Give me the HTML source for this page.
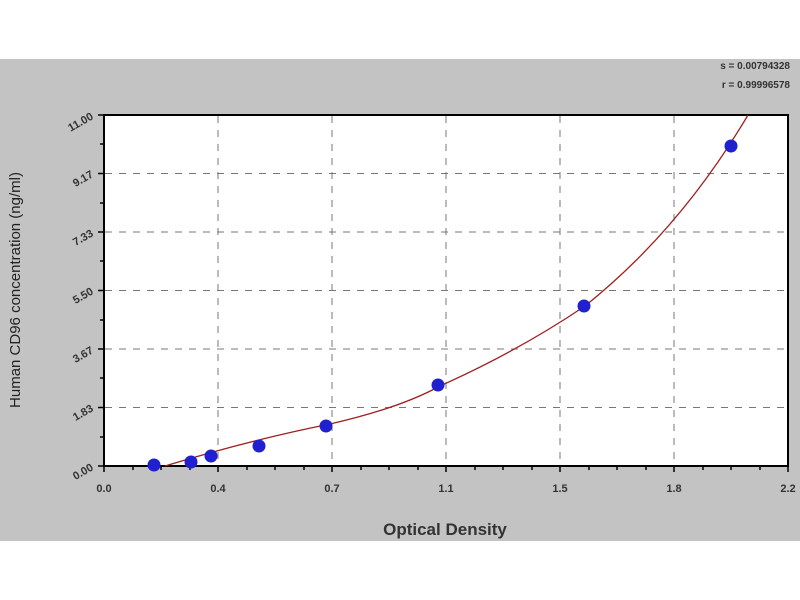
<!DOCTYPE html>
<html><head><style>body{margin:0;background:#fff}svg{display:block}text{font-family:"Liberation Sans",sans-serif}</style></head><body>
<svg width="800" height="600" xmlns="http://www.w3.org/2000/svg">
<rect x="0" y="59" width="800" height="482" fill="#c3c3c3"/>
<rect x="104" y="115" width="684" height="351" fill="#fff" stroke="#000" stroke-width="2"/>
<g stroke="#777" stroke-dasharray="7,7" stroke-width="1">
<line x1="218" y1="116" x2="218" y2="465"/><line x1="332" y1="116" x2="332" y2="465"/><line x1="446" y1="116" x2="446" y2="465"/><line x1="560" y1="116" x2="560" y2="465"/><line x1="674" y1="116" x2="674" y2="465"/>
<line x1="105" y1="173.5" x2="787" y2="173.5"/><line x1="105" y1="232" x2="787" y2="232"/><line x1="105" y1="290.5" x2="787" y2="290.5"/><line x1="105" y1="349" x2="787" y2="349"/><line x1="105" y1="407.5" x2="787" y2="407.5"/>
</g>
<g stroke="#000" stroke-width="1.5">
<line x1="104" y1="466" x2="104" y2="472"/><line x1="218" y1="466" x2="218" y2="472"/><line x1="332" y1="466" x2="332" y2="472"/><line x1="446" y1="466" x2="446" y2="472"/><line x1="560" y1="466" x2="560" y2="472"/><line x1="674" y1="466" x2="674" y2="472"/><line x1="788" y1="466" x2="788" y2="472"/>
<line x1="133" y1="466" x2="133" y2="470"/><line x1="161" y1="466" x2="161" y2="470"/><line x1="190" y1="466" x2="190" y2="470"/>
<line x1="247" y1="466" x2="247" y2="470"/><line x1="275" y1="466" x2="275" y2="470"/><line x1="304" y1="466" x2="304" y2="470"/>
<line x1="361" y1="466" x2="361" y2="470"/><line x1="389" y1="466" x2="389" y2="470"/><line x1="418" y1="466" x2="418" y2="470"/>
<line x1="475" y1="466" x2="475" y2="470"/><line x1="503" y1="466" x2="503" y2="470"/><line x1="532" y1="466" x2="532" y2="470"/>
<line x1="589" y1="466" x2="589" y2="470"/><line x1="617" y1="466" x2="617" y2="470"/><line x1="646" y1="466" x2="646" y2="470"/>
<line x1="703" y1="466" x2="703" y2="470"/><line x1="731" y1="466" x2="731" y2="470"/><line x1="760" y1="466" x2="760" y2="470"/>
<line x1="98" y1="115" x2="104" y2="115"/><line x1="98" y1="173.5" x2="104" y2="173.5"/><line x1="98" y1="232" x2="104" y2="232"/><line x1="98" y1="290.5" x2="104" y2="290.5"/><line x1="98" y1="349" x2="104" y2="349"/><line x1="98" y1="407.5" x2="104" y2="407.5"/><line x1="98" y1="466" x2="104" y2="466"/>
<line x1="100" y1="144" x2="104" y2="144"/><line x1="100" y1="203" x2="104" y2="203"/><line x1="100" y1="261" x2="104" y2="261"/><line x1="100" y1="320" x2="104" y2="320"/><line x1="100" y1="378" x2="104" y2="378"/><line x1="100" y1="437" x2="104" y2="437"/>
</g>
<g font-size="11" font-weight="bold" fill="#333" text-anchor="middle">
<text x="104" y="492">0.0</text><text x="218" y="492">0.4</text><text x="332" y="492">0.7</text><text x="446" y="492">1.1</text><text x="560" y="492">1.5</text><text x="674" y="492">1.8</text><text x="788" y="492">2.2</text>
</g>
<g font-size="11" font-weight="bold" fill="#333" text-anchor="end">
<text x="92" y="470" transform="rotate(-30 92 466)">0.00</text>
<text x="92" y="411" transform="rotate(-30 92 407)">1.83</text>
<text x="92" y="353" transform="rotate(-30 92 349)">3.67</text>
<text x="92" y="294" transform="rotate(-30 92 290)">5.50</text>
<text x="92" y="236" transform="rotate(-30 92 232)">7.33</text>
<text x="92" y="177" transform="rotate(-30 92 173)">9.17</text>
<text x="92" y="119" transform="rotate(-30 92 115)">11.00</text>
</g>
<text x="445" y="535" font-size="17" font-weight="bold" text-anchor="middle" fill="#333">Optical Density</text>
<text transform="translate(20 290) rotate(-90)" font-size="15" text-anchor="middle" fill="#222">Human CD96 concentration (ng/ml)</text>
<text x="790" y="69" font-size="10" font-weight="bold" text-anchor="end" fill="#333">s = 0.00794328</text>
<text x="790" y="88" font-size="10" font-weight="bold" text-anchor="end" fill="#333">r = 0.99996578</text>
<path d="M165,466 Q250,440 330,424 Q400,408 440,386 Q520,350 585,306 Q680,230 748,115" fill="none" stroke="#a02020" stroke-width="1.3"/>
<g fill="#2020d0">
<circle cx="154" cy="465" r="6.5"/><circle cx="191" cy="462" r="6.5"/><circle cx="211" cy="456" r="6.5"/><circle cx="259" cy="446" r="6.5"/><circle cx="326" cy="426" r="6.5"/><circle cx="438" cy="385" r="6.5"/><circle cx="584" cy="306" r="6.5"/><circle cx="731" cy="146" r="6.5"/>
</g>
</svg>
</body></html>
